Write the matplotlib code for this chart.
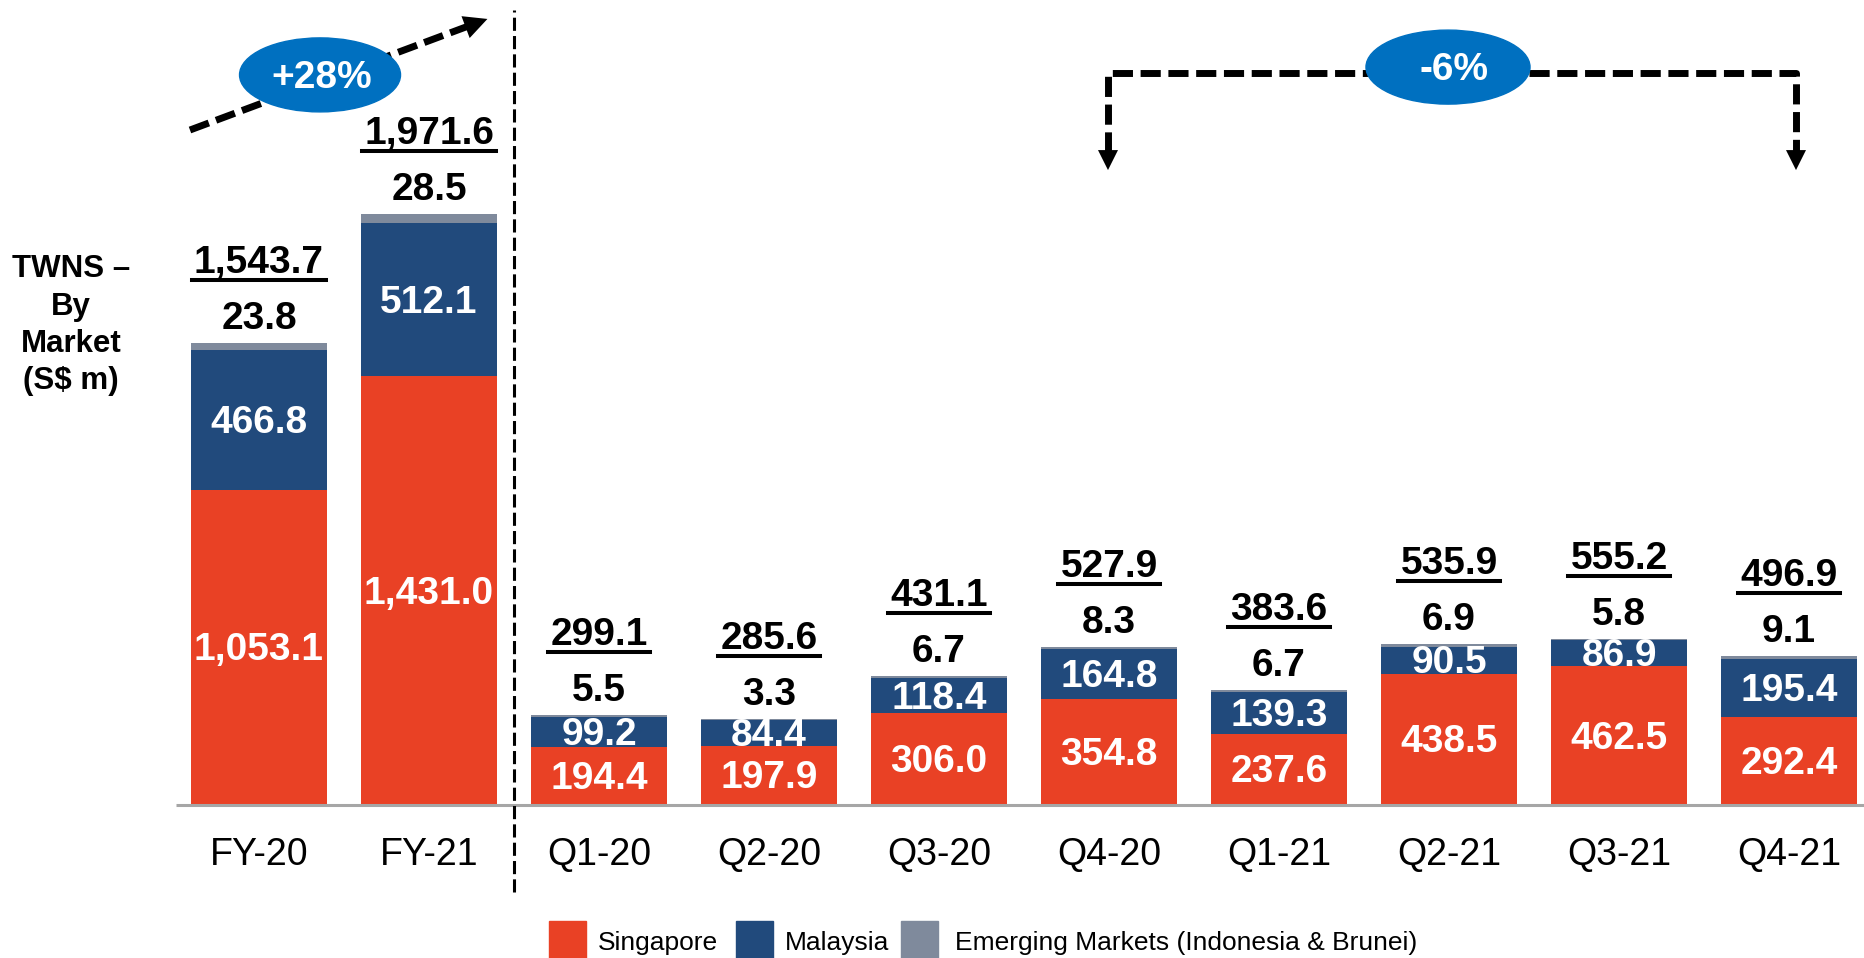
import matplotlib
matplotlib.use('Agg')
import numpy as np
import matplotlib.pyplot as plt
from matplotlib.patches import Ellipse, Rectangle
from matplotlib.lines import Line2D

plt.rcParams['font.family'] = ['Liberation Sans', 'DejaVu Sans']

# TWNS by market, S$ m
periods = ['FY-20', 'FY-21', 'Q1-20', 'Q2-20', 'Q3-20', 'Q4-20',
           'Q1-21', 'Q2-21', 'Q3-21', 'Q4-21']
singapore = [1053.1, 1431.0, 194.4, 197.9, 306.0, 354.8, 237.6, 438.5, 462.5, 292.4]
malaysia = [466.8, 512.1, 99.2, 84.4, 118.4, 164.8, 139.3, 90.5, 86.9, 195.4]
emerging = [23.8, 28.5, 5.5, 3.3, 6.7, 8.3, 6.7, 6.9, 5.8, 9.1]
totals = [1543.7, 1971.6, 299.1, 285.6, 431.1, 527.9, 383.6, 535.9, 555.2, 496.9]
series_names = ['Singapore', 'Malaysia', 'Emerging Markets (Indonesia & Brunei)']
growth_fy = '+28%'
growth_q4 = '-6%'

RED = '#E94125'
NAVY = '#214A7C'
GREY = '#7F8A9C'
BLUE = '#0070C0'
colors = [RED, NAVY, GREY]

fig = plt.figure(figsize=(18.64, 9.58), dpi=100)
ax = fig.add_axes([0, 0, 1, 1])
ax.set_xlim(-1.5235, 9.441)
ax.set_ylim(-510.7, 2687)
ax.axis('off')

x = np.arange(len(periods))
sg = np.array(singapore)
my = np.array(malaysia)
em = np.array(emerging)
width = 0.8

ax.bar(x, sg, width, color=RED, lw=0, zorder=2)
ax.bar(x, my, width, bottom=sg, color=NAVY, lw=0, zorder=2)
ax.bar(x, em, width, bottom=sg + my, color=GREY, lw=0, zorder=2)

# baseline
ax.plot([-0.49, 9.5], [0, 0], color='#A6A6A6', lw=2.2, zorder=3, solid_capstyle='butt')

bold = dict(ha='center', va='baseline', fontsize=28, fontweight='bold',
            textcoords='offset pixels', zorder=5)
total_texts = []
for i in range(len(x)):
    top = sg[i] + my[i] + em[i]
    ax.annotate(f'{sg[i]:,.1f}', (x[i], sg[i] / 2), xytext=(0, -13), color='white', **bold)
    ax.annotate(f'{my[i]:,.1f}', (x[i], sg[i] + my[i] / 2), xytext=(0, -13), color='white', **bold)
    ax.annotate(f'{em[i]:,.1f}', (x[i], top), xytext=(0, 14), color='black', **bold)
    t = ax.annotate(f'{totals[i]:,.1f}', (x[i], top), xytext=(0, 70), color='black', **bold)
    total_texts.append((t, x[i], top))
    ax.annotate(periods[i], (x[i], 0), xytext=(0, -60), textcoords='offset pixels',
                ha='center', va='baseline', fontsize=27, color='black')

# FY / quarter divider
ax.plot([1.498, 1.498], [-290, 2653], color='black', lw=2.2,
        linestyle=(0, (4.3, 1.7)), zorder=4)

# +28% arrow
dash = (0, (2.9, 1.1))
start = np.array([-0.406, 2253])
tip = np.array([1.359, 2627])
neck = start + 0.93 * (tip - start)
ax.plot([start[0], neck[0]], [start[1], neck[1]], color='black', lw=5,
        linestyle=dash, zorder=4)
ax.annotate('', xy=tip, xytext=neck,
            arrowprops=dict(arrowstyle='-|>', mutation_scale=42, color='black', lw=0),
            zorder=4)
ax.add_patch(Ellipse((0.359, 2437), 0.947, 247, color=BLUE, zorder=6))
ax.annotate(growth_fy, (0.37, 2437), xytext=(0, -13), textcoords='offset pixels',
            ha='center', va='baseline', fontsize=28, fontweight='bold',
            color='white', zorder=7)

# -6% bracket Q4-20 -> Q4-21
left_x, right_x, bar_y, tip_y = 4.994, 9.041, 2443, 2110
ax.plot([left_x, left_x, right_x, right_x], [tip_y + 70, bar_y, bar_y, tip_y + 70],
        color='black', lw=5, linestyle=dash, zorder=4)
for bx in (left_x, right_x):
    ax.annotate('', xy=(bx, tip_y), xytext=(bx, tip_y + 70),
                arrowprops=dict(arrowstyle='-|>', mutation_scale=36, color='black', lw=0),
                zorder=4)
ax.add_patch(Ellipse((6.994, 2463), 0.965, 247, color=BLUE, zorder=6))
ax.annotate(growth_q4, (7.03, 2463), xytext=(0, -13), textcoords='offset pixels',
            ha='center', va='baseline', fontsize=28, fontweight='bold',
            color='white', zorder=7)

# y label
H = 958.0
for line, yb in zip(['TWNS \u2013', 'By', 'Market', '(S$ m)'], [277, 315, 352, 389]):
    fig.text(71 / 1864, 1 - yb / H, line, ha='center', va='baseline',
             fontsize=22.5, fontweight='bold', color='black')

# legend
patch_x = [549, 736, 901]
text_x = [598, 785, 955]
for name, c, px, tx in zip(series_names, colors, patch_x, text_x):
    fig.patches.append(Rectangle((px / 1864, 0), 37 / 1864, 37 / H, color=c,
                                 transform=fig.transFigure, figure=fig))
    fig.text(tx / 1864, 1 - 950 / H, name, ha='left', va='baseline', fontsize=19)

# underline totals
fig.canvas.draw()
r = fig.canvas.get_renderer()
inv = fig.transFigure.inverted()
for t, xi, top in total_texts:
    bb = t.get_window_extent(r)
    base = ax.transData.transform((xi, top))[1] + 70
    (x0, y0), (x1, _) = inv.transform([(bb.x0 - 2, base - 7), (bb.x1 + 2, base - 7)])
    fig.add_artist(Line2D([x0, x1], [y0, y0], color='black', lw=2.9,
                          transform=fig.transFigure))

fig.savefig('out.png', dpi=100)
